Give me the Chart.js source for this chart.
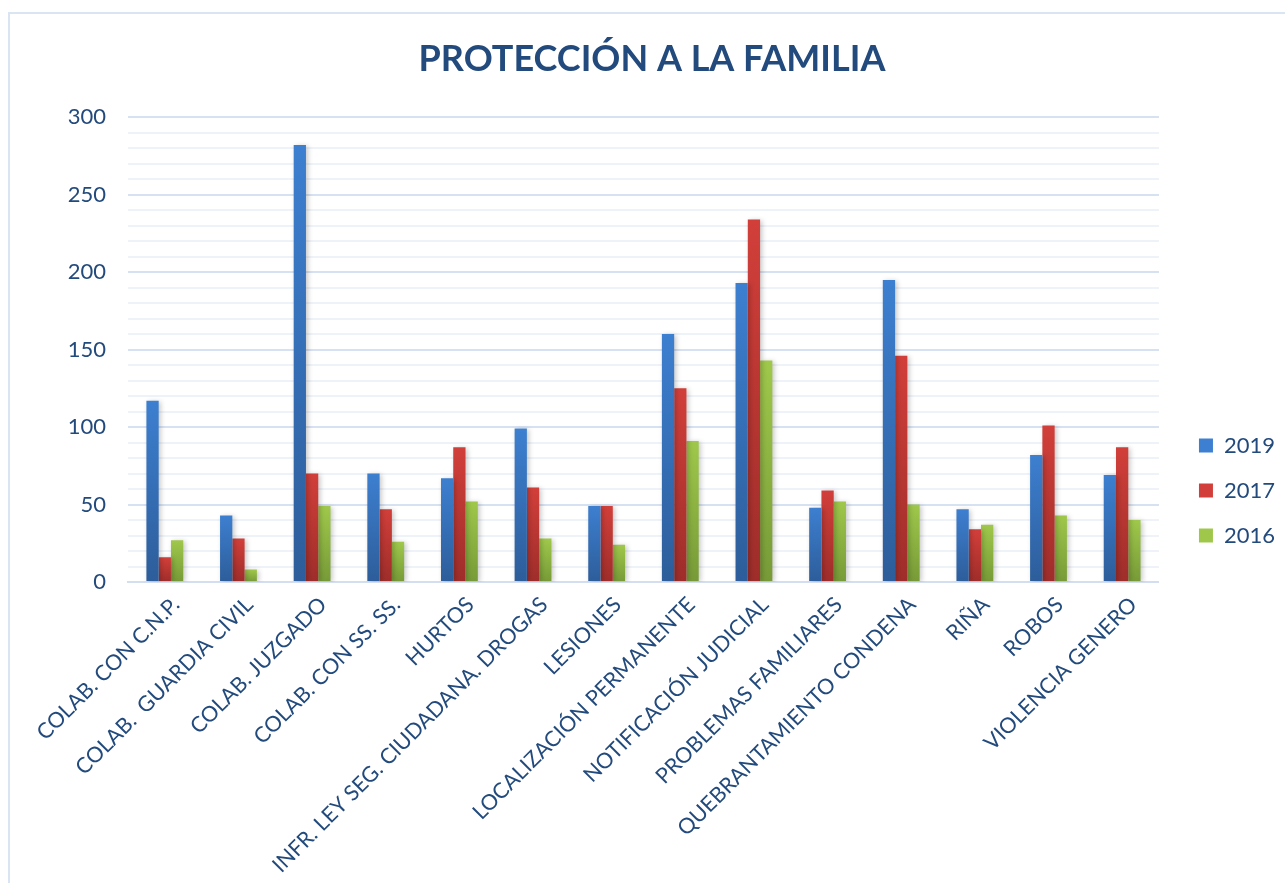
<!DOCTYPE html>
<html>
<head>
<meta charset="utf-8">
<script src="https://cdn.jsdelivr.net/npm/chart.js@4/dist/chart.umd.min.js"></script>
<style>
    html, body { margin: 0; padding: 0; background: #ffffff; }
    #frame {
        position: absolute; left: 8px; top: 12px; width: 1300px; height: 900px;
        border: 2px solid #dae5f4; box-sizing: border-box;
    }
    #wrap { position: absolute; left: 0; top: 0; width: 1285px; height: 883px; }
</style>
</head>
<body>
<div id="frame"></div>
<div id="wrap"><canvas id="chart"></canvas></div>
<script>
// Categories and values.
const categories = [
    "COLAB. CON C.N.P.", "COLAB.  GUARDIA CIVIL", "COLAB. JUZGADO", "COLAB. CON SS. SS.",
    "HURTOS", "INFR. LEY SEG. CIUDADANA. DROGAS", "LESIONES", "LOCALIZACIÓN PERMANENTE",
    "NOTIFICACIÓN JUDICIAL", "PROBLEMAS FAMILIARES", "QUEBRANTAMIENTO CONDENA",
    "RIÑA", "ROBOS", "VIOLENCIA GENERO"
];
const values2019 = [117, 43, 282, 70, 67, 99, 49, 160, 193, 48, 195, 47, 82, 69];
const values2017 = [16, 28, 70, 47, 87, 61, 49, 125, 234, 59, 146, 34, 101, 87];
const values2016 = [27, 8, 49, 26, 52, 28, 24, 91, 143, 52, 50, 37, 43, 40];
const seriesLabels = ["2019", "2017", "2016"];

// top / bottom colours of each series gradient
const seriesColors = [
    ["#3d7fd0", "#2d5d9a"],
    ["#d23f3a", "#9e2d2a"],
    ["#9fc84b", "#779a37"]
];

const textColor = "#224a7c";

// extra room between the bars and the legend
const legendGap = 17;

/**
 * Builds a vertical gradient for one bar, lighter at the top.
 */
function barGradient(ctx, colors) {
    const chart = ctx.chart;
    const area = chart.chartArea;
    if (!area || ctx.raw === undefined) return colors[0];
    const yScale = chart.scales.y;
    const top = yScale.getPixelForValue(ctx.raw);
    const bottom = yScale.getPixelForValue(0);
    if (!isFinite(top) || bottom - top < 1) return colors[1];
    const g = chart.ctx.createLinearGradient(0, top, 0, bottom);
    g.addColorStop(0, colors[0]);
    g.addColorStop(1, colors[1]);
    return g;
}

const barShadow = {
    id: "barShadow",
    beforeDatasetsDraw(chart) {
        const c = chart.ctx;
        c.save();
        c.shadowColor = "rgba(0, 0, 0, 0.22)";
        c.shadowBlur = 5;
        c.shadowOffsetX = 2;
        c.shadowOffsetY = 1;
    },
    afterDatasetsDraw(chart) {
        chart.ctx.restore();
    }
};

// moves the legend back to the right after the padding made the plot narrower
const legendNudge = {
    id: "legendNudge",
    afterLayout(chart) {
        if (!chart.legend) return;
        chart.legend.left += legendGap;
        chart.legend.right += legendGap;
    }
};

const allValues = [values2019, values2017, values2016];

new Chart(document.getElementById("chart"), {
    type: "bar",
    data: {
        labels: categories,
        datasets: allValues.map((vals, i) => ({
            label: seriesLabels[i],
            data: vals,
            backgroundColor: ctx => barGradient(ctx, seriesColors[i]),
            borderWidth: 0,
            categoryPercentage: 0.5,
            barPercentage: 1.0
        }))
    },
    plugins: [barShadow, legendNudge],
    options: {
        responsive: true,
        maintainAspectRatio: false,
        animation: false,
        layout: { padding: { left: 36, right: legendGap, top: 0, bottom: 0 } },
        plugins: {
            title: {
                display: true,
                text: "PROTECCIÓN A LA FAMILIA",
                color: textColor,
                font: { family: "Lato", size: 36, weight: "bold" },
                padding: { top: 38, bottom: 36 }
            },
            legend: {
                position: "right",
                title: {
                    display: true,
                    text: " ",
                    font: { family: "Lato", size: 10 },
                    padding: { top: 86, bottom: 0 }
                },
                labels: {
                    color: textColor,
                    font: { family: "Lato", size: 22 },
                    boxWidth: 14,
                    boxHeight: 14,
                    padding: 23,
                    generateLabels(chart) {
                        return seriesLabels.map((s, i) => ({
                            text: s,
                            fillStyle: seriesColors[i][0],
                            strokeStyle: seriesColors[i][0],
                            lineWidth: 0,
                            datasetIndex: i,
                            fontColor: textColor
                        }));
                    }
                }
            },
            tooltip: { enabled: false }
        },
        scales: {
            x: {
                grid: { display: false },
                border: { color: "#d3dff0", width: 2 },
                ticks: {
                    color: textColor,
                    font: { family: "Lato", size: 21.5 },
                    minRotation: 45,
                    maxRotation: 45,
                    autoSkip: false,
                    padding: 2,
                    labelOffset: 11
                },
                afterFit(scale) { scale.height = 301; }
            },
            y: {
                min: 0,
                max: 300,
                border: { display: false },
                grid: {
                    drawTicks: false,
                    color: ctx => ctx.tick.value % 50 === 0 ? "#d6e1f1" : "#eef2f9",
                    lineWidth: 2
                },
                ticks: {
                    stepSize: 10,
                    autoSkip: false,
                    color: textColor,
                    font: { family: "Lato", size: 22 },
                    padding: 22,
                    callback: v => v % 50 === 0 ? v : ""
                },
                afterFit(scale) { scale.width = 92; }
            }
        }
    }
});
</script>
</body>
</html>
